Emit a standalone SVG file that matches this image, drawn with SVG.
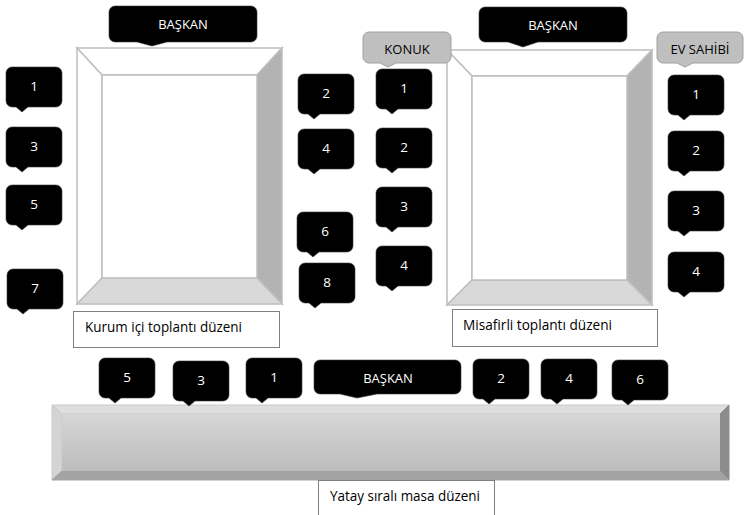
<svg xmlns="http://www.w3.org/2000/svg" width="744" height="515" viewBox="0 0 744 515">
  <style>
    text { font-family: "Open Sans", "Liberation Sans", sans-serif; font-size: 13px; }
    .num { fill: #ffffff; text-anchor: middle; font-size: 13.5px; }
    .lbl { fill: #ffffff; text-anchor: middle; }
    .glbl { fill: #000000; text-anchor: middle; }
    .cap { fill: #000000; font-size: 14px; }
    .cb { fill: #000000; stroke: #3a3a3a; stroke-width: 0.6; }
    .gb { fill: #bfbfbf; stroke: #a0a0a0; stroke-width: 1; }
    .edge { stroke: #bfbfbf; stroke-width: 1.5; stroke-linejoin: miter; }
    .box { fill: #ffffff; stroke: #7f7f7f; stroke-width: 1; }
  </style>
  <defs>
    <!-- seat callout: rounded box with a small pointer at the lower left -->
    <path id="seat" class="cb" d="M6,0 H50 A6,6 0 0 1 56,6 V34 A6,6 0 0 1 50,40 H22 L16,45 L10,40 H6 A6,6 0 0 1 0,34 V6 A6,6 0 0 1 6,0 Z"/>
    <linearGradient id="barFace" x1="0" y1="0" x2="0" y2="1">
      <stop offset="0" stop-color="#d6d6d6"/>
      <stop offset="1" stop-color="#bdbdbd"/>
    </linearGradient>
  </defs>

  <!-- Inner-company meeting table (bevelled frame) -->
  <g id="table-left">
    <polygon points="77,48 282,48 257,75 102,75" fill="#ffffff" class="edge"/>
    <polygon points="77,48 102,75 102,278 77,304" fill="#ffffff" class="edge"/>
    <polygon points="282,48 282,304 257,278 257,75" fill="#b3b3b3" class="edge"/>
    <polygon points="77,304 102,278 257,278 282,304" fill="#d9d9d9" class="edge"/>
    <rect x="102" y="75" width="155" height="203" fill="#ffffff" class="edge"/>
  </g>
  <g id="caption-left">
    <rect class="box" x="73.5" y="311.5" width="206" height="36"/>
    <text class="cap" x="85" y="332" textLength="157" lengthAdjust="spacingAndGlyphs">Kurum içi toplantı düzeni</text>
  </g>

  <!-- Meeting-with-guests table (bevelled frame) -->
  <g id="table-right">
    <polygon points="447,50 652,50 627,76 472,76" fill="#ffffff" class="edge"/>
    <polygon points="447,50 472,76 472,280 447,305" fill="#ffffff" class="edge"/>
    <polygon points="652,50 652,305 627,280 627,76" fill="#b3b3b3" class="edge"/>
    <polygon points="447,305 472,280 627,280 652,305" fill="#d9d9d9" class="edge"/>
    <rect x="472" y="76" width="155" height="204" fill="#ffffff" class="edge"/>
  </g>
  <g id="caption-right">
    <rect class="box" x="452.5" y="309.5" width="205" height="37"/>
    <text class="cap" x="463" y="330" textLength="149" lengthAdjust="spacingAndGlyphs">Misafirli toplantı düzeni</text>
  </g>

  <!-- Long horizontal table -->
  <g id="table-bottom">
    <polygon points="52,405 729,405 720,414 62,414" fill="#dedede" stroke="#c8c8c8"/>
    <polygon points="52,405 62,414 62,471 52,480" fill="#d4d4d4" stroke="#c8c8c8"/>
    <polygon points="729,405 729,480 720,471 720,414" fill="#8c8c8c" stroke="#8c8c8c"/>
    <polygon points="52,480 62,471 720,471 729,480" fill="#a3a3a3" stroke="#a3a3a3"/>
    <rect x="62" y="414" width="658" height="57" fill="url(#barFace)"/>
  </g>
  <g id="caption-bottom">
    <rect class="box" x="318.5" y="480.5" width="176" height="40"/>
    <text class="cap" x="330" y="501" textLength="150" lengthAdjust="spacingAndGlyphs">Yatay sıralı masa düzeni</text>
  </g>

  <!-- Chairs -->
  <g id="president-left">
    <path class="cb" d="M115,6 H251 A6,6 0 0 1 257,12 V36 A6,6 0 0 1 251,42 H167 L152,46 L137,42 H115 A6,6 0 0 1 109,36 V12 A6,6 0 0 1 115,6 Z"/>
    <text class="lbl" x="183" y="29">BAŞKAN</text>
  </g>
  <g id="president-right">
    <path class="cb" d="M485,7 H621 A6,6 0 0 1 627,13 V36 A6,6 0 0 1 621,42 H538 L523,47 L508,42 H485 A6,6 0 0 1 479,36 V13 A6,6 0 0 1 485,7 Z"/>
    <text class="lbl" x="553" y="30">BAŞKAN</text>
  </g>
  <g id="president-bottom">
    <path class="cb" d="M320,360 H455 A6,6 0 0 1 461,366 V388 A6,6 0 0 1 455,394 H377 L357,398 L340,394 H320 A6,6 0 0 1 314,388 V366 A6,6 0 0 1 320,360 Z"/>
    <text class="lbl" x="388" y="383">BAŞKAN</text>
  </g>
  <g id="guest-label">
    <path class="gb" d="M369,32 H445 A6,6 0 0 1 451,38 V57 A6,6 0 0 1 445,63 H396 L388,67 L380,63 H369 A6,6 0 0 1 363,57 V38 A6,6 0 0 1 369,32 Z"/>
    <text class="glbl" x="407" y="54">KONUK</text>
  </g>
  <g id="host-label">
    <path class="gb" d="M663,32 H737 A6,6 0 0 1 743,38 V57 A6,6 0 0 1 737,63 H693 L685,67 L677,63 H663 A6,6 0 0 1 657,57 V38 A6,6 0 0 1 663,32 Z"/>
    <text class="glbl" x="700" y="54">EV SAHİBİ</text>
  </g>

  <!-- Inner-company seats, left column -->
  <g id="seat-l1"><use href="#seat" x="6" y="67"/><text class="num" x="34" y="91">1</text></g>
  <g id="seat-l3"><use href="#seat" x="6" y="127"/><text class="num" x="34" y="151">3</text></g>
  <g id="seat-l5"><use href="#seat" x="6" y="185"/><text class="num" x="34" y="209">5</text></g>
  <g id="seat-l7"><use href="#seat" x="7" y="269"/><text class="num" x="35" y="293">7</text></g>
  <!-- Inner-company seats, right column -->
  <g id="seat-l2"><use href="#seat" x="298" y="74"/><text class="num" x="326" y="98">2</text></g>
  <g id="seat-l4"><use href="#seat" x="298" y="129"/><text class="num" x="326" y="153">4</text></g>
  <g id="seat-l6"><use href="#seat" x="297" y="212"/><text class="num" x="325" y="236">6</text></g>
  <g id="seat-l8"><use href="#seat" x="299" y="263"/><text class="num" x="327" y="287">8</text></g>

  <!-- Guest seats -->
  <g id="seat-g1"><use href="#seat" x="376" y="69"/><text class="num" x="404" y="93">1</text></g>
  <g id="seat-g2"><use href="#seat" x="376" y="128"/><text class="num" x="404" y="152">2</text></g>
  <g id="seat-g3"><use href="#seat" x="376" y="187"/><text class="num" x="404" y="211">3</text></g>
  <g id="seat-g4"><use href="#seat" x="376" y="246"/><text class="num" x="404" y="270">4</text></g>

  <!-- Host seats -->
  <g id="seat-h1"><use href="#seat" x="668" y="75"/><text class="num" x="696" y="99">1</text></g>
  <g id="seat-h2"><use href="#seat" x="668" y="131"/><text class="num" x="696" y="155">2</text></g>
  <g id="seat-h3"><use href="#seat" x="668" y="191"/><text class="num" x="696" y="215">3</text></g>
  <g id="seat-h4"><use href="#seat" x="668" y="252"/><text class="num" x="696" y="276">4</text></g>

  <!-- Horizontal table seats -->
  <g id="seat-b5"><use href="#seat" x="99" y="358"/><text class="num" x="127" y="382">5</text></g>
  <g id="seat-b3"><use href="#seat" x="173" y="361"/><text class="num" x="201" y="385">3</text></g>
  <g id="seat-b1"><use href="#seat" x="246" y="358"/><text class="num" x="274" y="382">1</text></g>
  <g id="seat-b2"><use href="#seat" x="473" y="359"/><text class="num" x="501" y="383">2</text></g>
  <g id="seat-b4"><use href="#seat" x="541" y="359"/><text class="num" x="569" y="383">4</text></g>
  <g id="seat-b6"><use href="#seat" x="612" y="360"/><text class="num" x="640" y="384">6</text></g>
</svg>
